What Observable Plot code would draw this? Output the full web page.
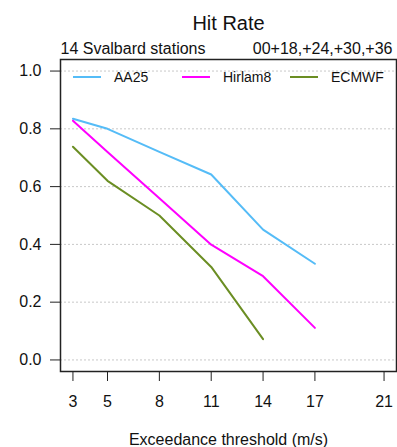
<!DOCTYPE html>
<html><head><meta charset="utf-8">
<script src="https://cdn.jsdelivr.net/npm/d3@7"></script>
<script src="https://cdn.jsdelivr.net/npm/@observablehq/plot@0.6"></script>
<style>
body{margin:0;background:#fff;}
#wrap{position:relative;width:397px;height:447px;font-family:"Liberation Sans",Arial,Helvetica,sans-serif;}
#wrap svg{display:block;}
.sw{position:absolute;height:2px;width:28px;}
.lab{position:absolute;font-size:14px;line-height:14px;color:#111;white-space:nowrap;}
</style>
</head><body><div id="wrap"></div>
<script>
const thresholds = [3, 5, 8, 11, 14, 17];
const aa25 = [0.835, 0.800, 0.720, 0.642, 0.451, 0.333];
const hirlam8 = [0.828, 0.720, 0.560, 0.399, 0.290, 0.111];
const ecmwf = [0.738, 0.620, 0.500, 0.322, 0.072];
const seriesNames = ["AA25", "Hirlam8", "ECMWF"];
const seriesColors = ["#55bcf7", "#ff00ff", "#6b8e23"];
const xTicks = [3, 5, 8, 11, 14, 17, 21];
const yTicks = [0, 0.2, 0.4, 0.6, 0.8, 1.0];
const titleText = "Hit Rate";
const subLeft = "14 Svalbard stations";
const subRight = "00+18,+24,+30,+36";
const xLabel = "Exceedance threshold (m/s)";

const seriesValues = [aa25, hirlam8, ecmwf];
const rows = [];
seriesNames.forEach((name, i) => {
  seriesValues[i].forEach((v, j) => rows.push({series: name, x: thresholds[j], y: v}));
});

const font = '"Liberation Sans", Arial, Helvetica, sans-serif';
const chart = Plot.plot({
  width: 397, height: 447,
  marginLeft: 60, marginRight: 1, marginTop: 59, marginBottom: 76,
  style: {fontFamily: font, fontSize: "16px", background: "white", color: "#111"},
  x: {domain: [2.28, 21.72]},
  y: {domain: [-0.04, 1.04]},
  color: {domain: seriesNames, range: seriesColors},
  marks: [
    Plot.gridY(yTicks, {stroke: "#c8c8c8", strokeOpacity: 1, strokeDasharray: "2,2", strokeWidth: 1}),
    Plot.axisY(yTicks, {tickSize: 10, tickPadding: 9, tickFormat: d => d.toFixed(1), label: null, stroke: "#222"}),
    Plot.axisX(xTicks, {tickSize: 10, tickPadding: 14, tickFormat: d => String(d), label: null, stroke: "#222"}),
    Plot.line(rows, {x: "x", y: "y", z: "series", stroke: "series", strokeWidth: 2}),
    Plot.frame({stroke: "#222", strokeWidth: 1.5}),
    Plot.text([titleText], {text: d => d, frameAnchor: "top", dy: -36, fontSize: 20, lineAnchor: "middle"}),
    Plot.text([subLeft], {text: d => d, frameAnchor: "top-left", textAnchor: "start", dy: -10.5, lineAnchor: "middle"}),
    Plot.text([subRight], {text: d => d, frameAnchor: "top-right", textAnchor: "end", dx: -4, dy: -10.5, lineAnchor: "middle"}),
    Plot.text([xLabel], {text: d => d, frameAnchor: "bottom", dy: 68, lineAnchor: "middle"})
  ]
});
const wrap = document.getElementById("wrap");
wrap.appendChild(chart);

// legend inside the plot box
const legX = [73, 182, 290];
seriesNames.forEach((name, i) => {
  const sw = document.createElement("div");
  sw.className = "sw";
  sw.style.left = legX[i] + "px";
  sw.style.top = "76px";
  sw.style.background = seriesColors[i];
  wrap.appendChild(sw);
  const lb = document.createElement("div");
  lb.className = "lab";
  lb.style.left = (legX[i] + 41) + "px";
  lb.style.top = "70px";
  lb.textContent = name;
  wrap.appendChild(lb);
});
</script>
</body></html>
